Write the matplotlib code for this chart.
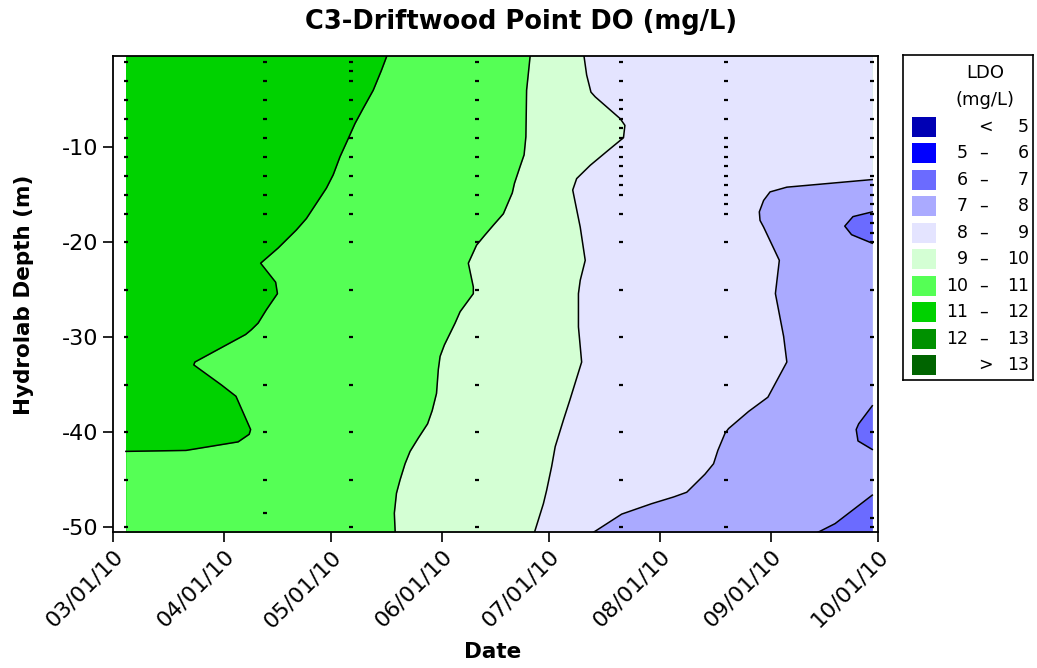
import numpy as np
import matplotlib
matplotlib.use("Agg")
import matplotlib.pyplot as plt
import matplotlib.dates as mdates
from matplotlib.patches import Rectangle

plt.rcParams['font.family'] = 'DejaVu Sans'
plt.rcParams['axes.unicode_minus'] = False

t0 = mdates.date2num(np.datetime64('2010-03-01'))

# Hydrolab profiles: days after 1 Mar 2010 and the depths sampled (m)
profile_day = [3.6, 42.6, 66.5, 101.7, 142.0, 171.4, 212.4]
profile_depth = [
    [-1, -3, -5, -7, -9, -11, -13, -15, -17, -20, -25, -30, -35, -40, -45, -50],
    [-1, -3, -5, -7, -9, -11, -13, -15, -17, -20, -25, -30, -35, -40, -45, -48.5],
    [-1, -2, -3, -5, -7, -9, -11, -13, -15, -17, -20, -25, -30, -35, -40, -45, -50],
    [-1, -3, -5, -7, -9, -11, -13, -15, -17, -20, -25, -30, -35, -40, -45, -50],
    [-1, -3, -5, -6, -7, -8, -9, -10, -11, -12, -13, -14, -15, -17, -20, -25,
     -30, -35, -40, -45, -50],
    [-1, -3, -5, -7, -9, -10, -11, -12, -13, -14, -15, -16, -17, -20, -25, -30,
     -35, -40, -45, -50],
    [-1, -3, -5, -7, -9, -11, -13, -14, -15, -16, -17, -18, -19, -20, -25, -30,
     -35, -40, -45, -49, -50],
]

# LDO isolines: depth (m) and position (days after 1 Mar)
do11_depth = [0, -1.9, -4.0, -5.9, -7.5, -9.1, -11.0, -12.9, -14.3, -15.9, -17.5,
              -18.7, -20.6, -22.2, -24.2, -25.4, -27.1, -28.5, -29.2, -29.7, -32.6,
              -32.9, -35.0, -36.2, -39.7, -40.2, -41.0, -41.9, -42.0]
do11_day = [77.0, 75.1, 72.8, 70.0, 67.7, 65.8, 63.5, 61.6, 59.7, 56.9, 54.1,
            51.3, 46.2, 41.3, 45.5, 46.0, 42.9, 40.6, 38.7, 37.1, 22.9,
            22.6, 30.3, 34.4, 38.5, 38.1, 35.0, 20.4, 3.6]

do10_depth = [0, -2.2, -4.0, -8.9, -10.8, -12.0, -13.8, -14.8, -17.0, -18.2, -19.3,
              -20.3, -22.2, -24.7, -25.4, -27.3, -28.5, -30.8, -32.0, -33.4, -35.9,
              -37.7, -39.1, -40.6, -42.0, -43.3, -45.0, -46.4, -48.5, -51.0]
do10_day = [116.8, 116.2, 115.7, 115.5, 115.0, 113.9, 112.3, 111.7, 109.2, 106.4, 103.9,
            101.7, 99.4, 100.8, 100.8, 97.1, 95.7, 92.7, 91.5, 91.0, 90.5,
            89.3, 88.0, 85.4, 83.1, 81.7, 80.3, 79.3, 78.7, 79.0]

do9_depth = [0, -2.4, -4.2, -4.7, -7.0, -7.7, -9.0, -10.3, -11.9, -13.3, -14.5, -18.4,
             -21.9, -24.0, -25.4, -28.9, -32.6, -36.6, -38.7, -41.5, -43.6, -46.1,
             -47.5, -51.0]
do9_day = [131.6, 132.5, 133.7, 134.9, 141.9, 143.2, 142.8, 138.6, 133.5, 129.7, 128.6, 130.7,
           132.1, 130.7, 130.2, 130.2, 131.1, 127.8, 126.0, 123.7, 122.7, 121.3,
           120.4, 117.5]

do8_depth = [-13.4, -14.2, -14.7, -15.6, -16.8, -17.7, -18.4, -21.9, -25.4, -29.9, -32.6,
             -36.3, -37.8, -39.6, -40.1, -41.9, -43.3, -44.4, -46.3, -46.8, -47.5,
             -48.6, -50.3, -51.0]
do8_day = [212.4, 188.5, 183.8, 182.0, 180.8, 181.0, 182.0, 186.4, 185.3, 187.6, 188.5,
           183.2, 177.8, 172.2, 171.2, 169.2, 168.0, 165.6, 160.5, 156.8, 150.7,
           142.3, 135.3, 132.3]

# three pockets below 7 mg/L on the last profile
do7_depth = [
    [-16.8, -17.3, -18.3, -19.2, -20.1],
    [-37.2, -39.1, -39.7, -40.9, -41.8],
    [-46.6, -49.6, -50.4, -51.0],
]
do7_day = [
    [212.4, 207.0, 204.7, 206.6, 212.4],
    [212.4, 208.6, 207.9, 208.4, 212.4],
    [212.4, 202.0, 197.8, 194.3],
]

band_colors = ['#0000b4', '#0000ff', '#6b6bff', '#aaaaff', '#e4e4ff',
               '#d4ffd4', '#55ff55', '#00d200', '#009100', '#006400']
band_low = ['<', '5', '6', '7', '8', '9', '10', '11', '12', '>']
band_high = ['5', '6', '7', '8', '9', '10', '11', '12', '13', '13']


def dn(days):
    return t0 + np.asarray(days, dtype=float)


W, H = 1037, 668
fig = plt.figure(figsize=(W / 100, H / 100), dpi=100)
ax = fig.add_axes([113 / W, 1 - 531.7 / H, 765 / W, 475.7 / H])

first, last = profile_day[0], profile_day[-1]
ax.fill_betweenx([0, -51], dn(first), dn(last), color=band_colors[7], lw=0)
ax.fill_betweenx(do11_depth + [-51], dn(do11_day + [first]), dn(last),
                 color=band_colors[6], lw=0)
ax.fill_betweenx(do10_depth, dn(do10_day), dn(last), color=band_colors[5], lw=0)
ax.fill_betweenx(do9_depth, dn(do9_day), dn(last), color=band_colors[4], lw=0)
ax.fill_betweenx(do8_depth, dn(do8_day), dn(last), color=band_colors[3], lw=0)
for dep, day in zip(do7_depth, do7_day):
    ax.fill_betweenx(dep, dn(day), dn(last), color=band_colors[2], lw=0)

for dep, day in [(do11_depth, do11_day), (do10_depth, do10_day),
                 (do9_depth, do9_day), (do8_depth, do8_day)] + list(zip(do7_depth, do7_day)):
    ax.plot(dn(day), dep, color='k', lw=1.1)

for day, deps in zip(profile_day, profile_depth):
    ax.plot(dn([day] * len(deps)), deps, ls='none', marker='_', ms=3.2,
            mew=1.6, color='k')

ax.set_xlim(t0, t0 + 214)
ax.set_ylim(-50.45, -0.4)
ax.set_yticks([-10, -20, -30, -40, -50])
ax.xaxis.set_major_locator(mdates.MonthLocator())
ax.xaxis.set_major_formatter(mdates.DateFormatter('%m/%d/%y'))
ax.tick_params(direction='out', length=7, width=1.2, labelsize=16)
plt.setp(ax.get_xticklabels(), rotation=45, ha='right', rotation_mode='anchor')
for s in ax.spines.values():
    s.set_linewidth(1.3)

fig.text(521 / W, 1 - 22 / H, 'C3-Driftwood Point DO (mg/L)', ha='center',
         va='center', fontsize=18.5, fontweight='bold')
fig.text(24 / W, 1 - 295 / H, 'Hydrolab Depth (m)', ha='center', va='center',
         rotation=90, fontsize=15.5, fontweight='bold')
fig.text(493 / W, 1 - 652 / H, 'Date', ha='center', va='center',
         fontsize=15.5, fontweight='bold')

# legend box, laid out in pixels from its top-left corner
lax = fig.add_axes([903 / W, 1 - 380 / H, 130 / W, 325 / H])
lax.set_xlim(0, 130)
lax.set_ylim(325, 0)
lax.set_xticks([])
lax.set_yticks([])
for s in lax.spines.values():
    s.set_linewidth(1.2)
lax.text(82, 18, 'LDO', ha='center', va='center', fontsize=13)
lax.text(82, 45, '(mg/L)', ha='center', va='center', fontsize=13)
for i, (c, lo, hi) in enumerate(zip(band_colors, band_low, band_high)):
    y = 71.7 + i * 26.5
    lax.add_patch(Rectangle((9, y - 10), 24, 20, color=c, lw=0))
    if lo in '<>':
        lax.text(82, y, lo, ha='center', va='center', fontsize=12.5)
    else:
        lax.text(65, y, lo, ha='right', va='center', fontsize=12.5)
        lax.text(80, y, '\u2013', ha='center', va='center', fontsize=12.5)
    lax.text(126, y, hi, ha='right', va='center', fontsize=12.5)

fig.savefig('out.png', dpi=100)
